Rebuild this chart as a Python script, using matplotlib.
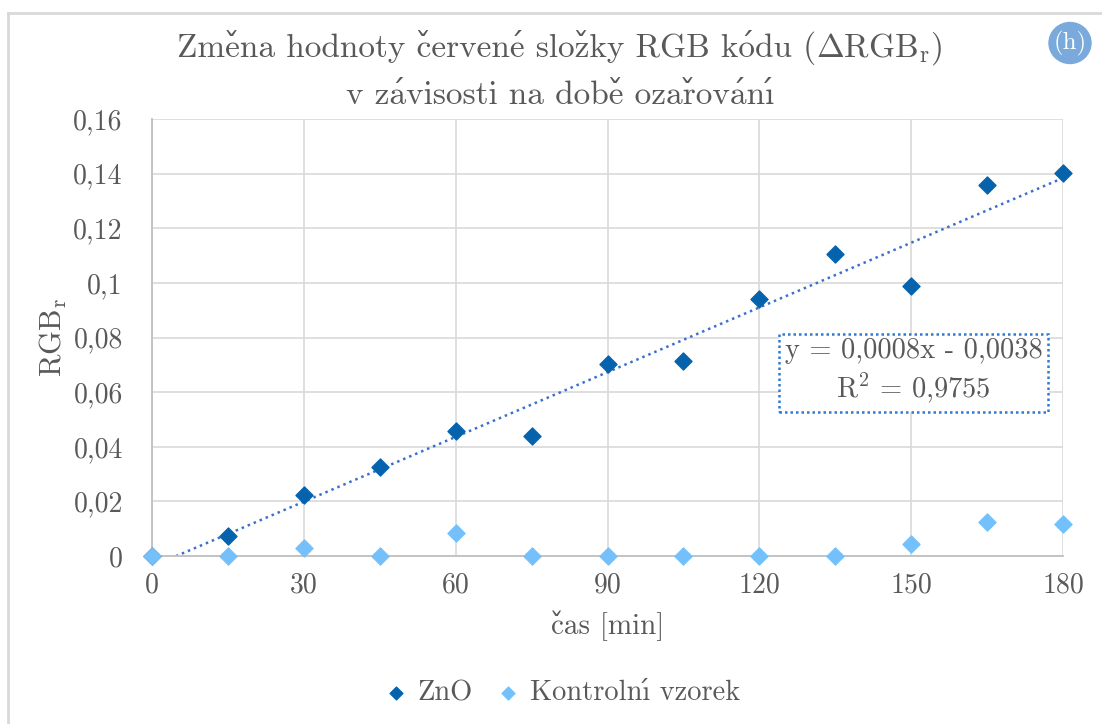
import numpy as np
import matplotlib
matplotlib.use('Agg')
from matplotlib import pyplot as plt
from matplotlib.ticker import FuncFormatter, MultipleLocator
from matplotlib.patches import Ellipse

# cmr10 nemá česká písmena -> háčky a čárky skládáme z kombinujících znaků (DejaVu Serif)
plt.rcParams['font.family'] = ['cmr10', 'DejaVu Serif']
plt.rcParams['mathtext.fontset'] = 'cm'
plt.rcParams['axes.unicode_minus'] = False

CARON = '\u030c'
ACUTE = '\u0301'
BEZTECKY_I = '\u00b3'  # v cmr10 leží na této pozici ı


def cz(s):
    pary = {'ě': 'e' + CARON, 'č': 'c' + CARON, 'ž': 'z' + CARON, 'ř': 'r' + CARON,
            'é': 'e' + ACUTE, 'ó': 'o' + ACUTE, 'á': 'a' + ACUTE, 'í': BEZTECKY_I + ACUTE}
    return ''.join(pary.get(c, c) for c in s)


# doba ozařování [min]
cas = [0, 15, 30, 45, 60, 75, 90, 105, 120, 135, 150, 165, 180]
zno = [0, 0.0073, 0.0223, 0.0326, 0.0458, 0.0440, 0.0703, 0.0714,
       0.0940, 0.1107, 0.0990, 0.1360, 0.1404]
kontrola = [0, 0, 0.0029, 0, 0.0083, 0, 0, 0, 0, 0, 0.0044, 0.0123, 0.0116]

# lineární trend pro ZnO
trend_k = 0.00079
trend_q = -0.0038
trend_r2 = 0.9755

x_ticks = [0, 30, 60, 90, 120, 150, 180]

text_col = '#595959'
grid_col = '#d9d9d9'
zno_col = '#0563ad'
kontrola_col = '#74c0fb'

W, H = 1102, 724
fig = plt.figure(figsize=(W / 100, H / 100), dpi=100)
fig.patch.set_facecolor('w')
ax = fig.add_axes([152 / W, 1 - 556 / H, (1063 - 152) / W, (556 - 119) / H])

ax.set_xlim(0, 180)
ax.set_ylim(0, 0.16)
ax.set_xticks(x_ticks)
ax.yaxis.set_major_locator(MultipleLocator(0.02))
ax.grid(True, color=grid_col, lw=1.2)
ax.set_axisbelow(True)
for s in ['top', 'right']:
    ax.spines[s].set_visible(False)
for s in ['left', 'bottom']:
    ax.spines[s].set_color('#bfbfbf')
    ax.spines[s].set_linewidth(1.3)
ax.tick_params(length=0, labelsize=20, labelcolor=text_col)
ax.tick_params(axis='x', pad=12)
ax.tick_params(axis='y', pad=21)


def carka(v, pos):
    return ('%g' % round(v, 4)).replace('.', ',')


ax.xaxis.set_major_formatter(FuncFormatter(lambda v, p: '%d' % v))
ax.yaxis.set_major_formatter(FuncFormatter(carka))

# trendová přímka
xt = np.linspace(0, 180, 200)
ax.plot(xt, trend_k * xt + trend_q, ls=(0, (1, 1.6)), lw=1.8, color='#3a6fd0', zorder=2)

ax.scatter(cas, zno, marker='D', s=75, color=zno_col, zorder=3, label='ZnO', clip_on=False)
ax.scatter(cas, kontrola, marker='D', s=75, color=kontrola_col, zorder=4,
           label=cz('Kontrolní vzorek'), clip_on=False)

rovnice = 'y = %sx - %s\nR$^2$ = %s' % (
    ('%.4f' % trend_k).replace('.', ','),
    ('%.4f' % -trend_q).replace('.', ','),
    ('%.4f' % trend_r2).replace('.', ','))
ax.text(0.836, 0.421, rovnice, transform=ax.transAxes, ha='center', va='center',
        fontsize=20.5, color=text_col, linespacing=1.3,
        bbox=dict(boxstyle='square,pad=0.2', fc='white', ec='#2e7bcf', ls=(0, (1, 1.2)), lw=1.8))

ax.set_xlabel(cz('čas [min]'), fontsize=21, color=text_col, labelpad=8)
ax.set_ylabel('RGB$_\\mathrm{r}$', fontsize=22, color=text_col, labelpad=3)

# nadpis: česká část bez mathtextu, ΔRGB_r zvlášť
r = fig.canvas.get_renderer()
t1 = fig.text(0, 1 - 57 / H, cz('Změna hodnoty červené složky RGB kódu ('),
              ha='left', va='baseline', fontsize=24, color=text_col)
t2 = fig.text(0, 1 - 57 / H, '$\\Delta$RGB$_\\mathrm{r}$)',
              ha='left', va='baseline', fontsize=24, color=text_col)
w1 = t1.get_window_extent(r).width
w2 = t2.get_window_extent(r).width
x0 = 0.508 * W - (w1 + w2) / 2
t1.set_x(x0 / W)
t2.set_x((x0 + w1) / W)
fig.text(0.508, 1 - 104 / H, cz('v závisosti na době ozařování'),
         ha='center', va='baseline', fontsize=24, color=text_col)

leg = fig.legend(loc='center', bbox_to_anchor=(0.5095, 1 - 693 / H), ncol=2, frameon=False,
                 fontsize=20.5, handlelength=0.9, handletextpad=0.3, columnspacing=0.8,
                 markerscale=0.75)
for t in leg.get_texts():
    t.set_color(text_col)

# rámeček grafu
fig.add_artist(plt.Line2D([8 / W, 8 / W], [0, 1 - 13 / H], transform=fig.transFigure,
                          color='#d9d9d9', lw=2))
fig.add_artist(plt.Line2D([8 / W, 1], [1 - 13 / H, 1 - 13 / H], transform=fig.transFigure,
                          color='#d9d9d9', lw=2))

# štítek (h)
fig.add_artist(Ellipse((1070 / W, 1 - 43 / H), 42 / W, 41 / H, transform=fig.transFigure,
                       color='#7aaadb'))
fig.text(1070 / W, 1 - 43 / H, '(h)', ha='center', va='center', fontsize=18, color='white')

plt.savefig('out.png', dpi=100)
